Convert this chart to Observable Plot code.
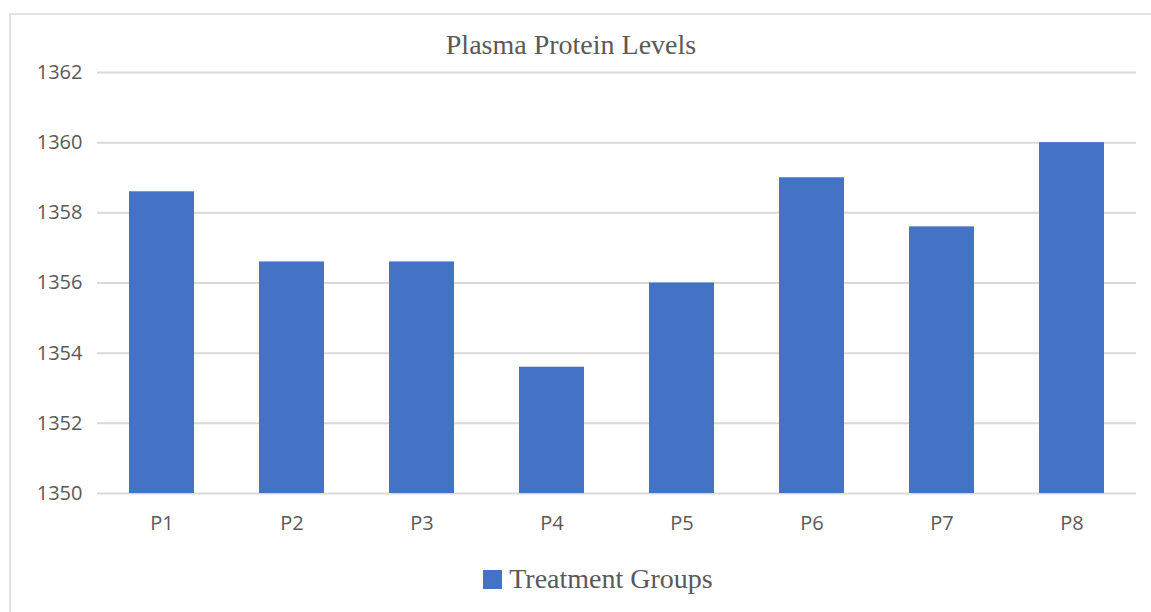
<!DOCTYPE html>
<html>
<head>
<meta charset="utf-8">
<script src="https://cdn.jsdelivr.net/npm/d3@7"></script>
<script src="https://cdn.jsdelivr.net/npm/@observablehq/plot@0.6"></script>
<style>
  html, body { margin: 0; padding: 0; background: #fff; }
  #wrap { position: relative; width: 1151px; height: 612px; overflow: hidden; background: #fff; }
  #frame { position: absolute; left: 9px; top: 13px; width: 1160px; height: 620px;
           border-top: 2px solid #e3e3e3; border-left: 2px solid #e3e3e3; box-sizing: border-box; }
  #chart { position: absolute; left: 0; top: 40px; }
  #title { position: absolute; top: 28px; left: 0; width: 1142px; text-align: center; z-index: 2;
           font-family: "Liberation Serif", "DejaVu Serif", serif; font-size: 28px; color: #595959; line-height: 34px; }
  #legend { position: absolute; top: 562px; left: 0; width: 1196px; text-align: center;
            font-family: "Liberation Serif", "DejaVu Serif", serif; font-size: 28px; color: #595959; line-height: 34px; }
  #legend .sw { display: inline-block; width: 19px; height: 19px; background: #4472C4;
                margin-right: 7px; vertical-align: -1px; }
</style>
</head>
<body>
<div id="wrap">
  <div id="frame"></div>
  <div id="chart"></div>
  <div id="title">Plasma Protein Levels</div>
  <div id="legend"><span class="sw"></span>Treatment Groups</div>
</div>
<script>
const groups = ["P1", "P2", "P3", "P4", "P5", "P6", "P7", "P8"];
const values = [1358.6, 1356.6, 1356.6, 1353.6, 1356.0, 1359.0, 1357.6, 1360.0];
const yTicks = [1350, 1352, 1354, 1356, 1358, 1360, 1362];
const seriesName = "Treatment Groups";

const data = groups.map((g, i) => ({ group: g, value: values[i], base: yTicks[0] }));

const chart = Plot.plot({
  width: 1151,
  height: 505,
  marginLeft: 97,
  marginRight: 15,
  marginTop: 32,
  marginBottom: 52,
  style: { fontFamily: "'Open Sans', 'DejaVu Sans', sans-serif", fontSize: "20px", color: "#595959", background: "transparent", overflow: "visible" },
  x: { domain: groups, paddingInner: 0.5, paddingOuter: 0.24, label: null, tickSize: 0, tickPadding: 22 },
  y: { domain: [yTicks[0], yTicks[yTicks.length - 1]], ticks: yTicks, label: null, tickSize: 0, tickPadding: 15, tickFormat: d => String(d) },
  marks: [
    Plot.gridY(yTicks, { stroke: "#d9d9d9", strokeOpacity: 1, strokeWidth: 2 }),
    Plot.barY(data, { x: "group", y1: "base", y2: "value", fill: "#4472C4", title: d => `${seriesName} ${d.group}: ${d.value}` }),
    Plot.axisX({ tickSize: 0, tickPadding: 22, fill: "#595959", fontSize: 20 }),
    Plot.axisY(yTicks, { tickSize: 0, tickPadding: 15, fill: "#595959", fontSize: 20, tickFormat: d => String(d) })
  ]
});
document.getElementById("chart").appendChild(chart);
</script>
</body>
</html>
